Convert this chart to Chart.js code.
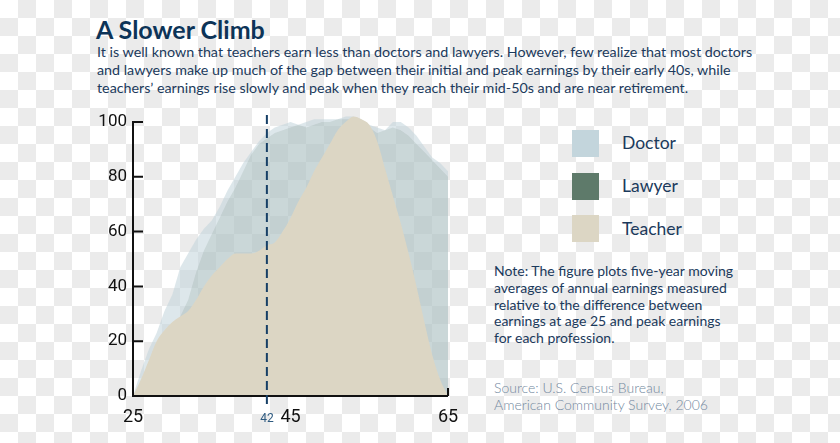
<!DOCTYPE html>
<html lang="en">
<head>
<meta charset="UTF-8">
<title>A Slower Climb</title>
<script src="https://cdn.jsdelivr.net/npm/chart.js"></script>
<style>
  body {
    margin: 0;
    width: 840px;
    height: 443px;
    overflow: hidden;
    position: relative;
    background: repeating-conic-gradient(#ebebeb 0 25%, #ffffff 0 50%) 0 0 / 36px 36px;
    font-family: 'Lato', sans-serif;
    color: #1b3a5c;
  }
  #chart { position: absolute; left: 0; top: 0; }
  .title {
    position: absolute; left: 96px; top: 14px;
    font-size: 25px; font-weight: bold; color: #0d3458;
  }
  .intro {
    position: absolute; left: 97px; top: 43px;
    font-size: 14.3px; line-height: 18px; white-space: nowrap;
  }
  .swatch { position: absolute; left: 572px; width: 27px; height: 27px; }
  .lbl { position: absolute; left: 622px; font-size: 17.5px; line-height: 22px; }
  .note {
    position: absolute; left: 494px; top: 263px;
    font-size: 14px; line-height: 16.8px; white-space: nowrap;
  }
  .source {
    position: absolute; left: 494px; top: 379px;
    font-size: 14px; line-height: 17px; color: #7389a0; font-weight: 300; white-space: nowrap;
  }
</style>
</head>
<body>
  <div class="title">A Slower Climb</div>
  <div class="intro">
    It is well known that teachers earn less than doctors and lawyers. However, few realize that most doctors<br>
    and lawyers make up much of the gap between their initial and peak earnings by their early 40s, while<br>
    teachers’ earnings rise slowly and peak when they reach their mid-50s and are near retirement.
  </div>

  <div class="swatch" style="top:130px; background:#c3d5dc;"></div>
  <div class="lbl" style="top:132px;">Doctor</div>
  <div class="swatch" style="top:173px; background:#5e7a6a;"></div>
  <div class="lbl" style="top:175px;">Lawyer</div>
  <div class="swatch" style="top:215px; background:#dcd6c4;"></div>
  <div class="lbl" style="top:218px;">Teacher</div>

  <div class="note">
    Note: The figure plots five-year moving<br>
    averages of annual earnings measured<br>
    relative to the difference between<br>
    earnings at age 25 and peak earnings<br>
    for each profession.
  </div>
  <div class="source">
    Source: U.S. Census Bureau,<br>
    American Community Survey, 2006
  </div>

  <canvas id="chart" width="840" height="443"></canvas>

<script>
// ages 25..65
const ages = [25,26,27,28,29,30,31,32,33,34,35,36,37,38,39,40,41,42,43,44,45,
              46,47,48,49,50,51,52,53,54,55,56,57,58,59,60,61,62,63,64,65];

const doctor = [0,9,17,23,31,37,47,52,57,61,64,69,75,80,85,89,93,96,98,99,100,
                99,100,101,101,101,101,102,102,101,99,98,97,100,100,98,95,91,87,85,82];

const lawyer = [0,5,10,14,19,24,29,35,45,53,59,65,71,76,82,88,92,94,96,97,98,
                99,98,99,100,100,101,101,101,100,98,96,97,98,97,95,92,89,86,83,80];

const teacher = [0,6,13,20,24,27,29,31,35,40,44,47,50,52,52,52,53,55,56,60,65,
                 71,76,82,87,92,97,100,102,101,99,93,83,73,63,52,40,27,15,6,0];

const xTicks = [25, 45, 65];
const yTicks = [0, 20, 40, 60, 80, 100];
const markerAge = 42;

function toPoints(values) {
    return ages.map((a, i) => ({ x: a, y: values[i] }));
}

// axis lines, inner tick marks and the dashed marker at age 42
const axisLines = {
    id: 'axisLines',
    afterDatasetsDraw(chart) {
        const ctx = chart.ctx;
        const xs = chart.scales.x, ys = chart.scales.y;
        const x0 = xs.getPixelForValue(25), x1 = xs.getPixelForValue(65);
        const y0 = ys.getPixelForValue(0), yTop = ys.getPixelForValue(100);
        ctx.save();
        ctx.strokeStyle = '#111';
        ctx.lineWidth = 2;
        ctx.beginPath();
        ctx.moveTo(x0, yTop - 1);
        ctx.lineTo(x0, y0);
        ctx.lineTo(x1, y0);
        yTicks.forEach(v => {
            const p = ys.getPixelForValue(v);
            ctx.moveTo(x0, p);
            ctx.lineTo(x0 + 10, p);
        });
        ctx.moveTo(x1, y0);
        ctx.lineTo(x1, y0 - 8);
        ctx.stroke();

        const xm = xs.getPixelForValue(markerAge);
        ctx.strokeStyle = '#163f66';
        ctx.setLineDash([9, 5]);
        ctx.beginPath();
        ctx.moveTo(xm, yTop - 7);
        ctx.lineTo(xm, y0 + 10);
        ctx.stroke();
        ctx.setLineDash([]);

        ctx.fillStyle = '#2e5a80';
        ctx.font = '12px Roboto';
        ctx.textAlign = 'center';
        ctx.textBaseline = 'middle';
        ctx.fillText(String(markerAge), xm, y0 + 23);
        ctx.restore();
    }
};

new Chart(document.getElementById('chart'), {
    type: 'line',
    data: {
        datasets: [
            {
                label: 'Teacher',
                data: toPoints(teacher),
                backgroundColor: '#dcd6c4',
                borderWidth: 0,
                pointRadius: 0,
                fill: 'origin',
                cubicInterpolationMode: 'monotone',
                order: 0
            },
            {
                label: 'Lawyer',
                data: toPoints(lawyer),
                backgroundColor: 'rgba(94, 122, 106, 0.15)',
                borderWidth: 0,
                pointRadius: 0,
                fill: 'origin',
                order: 1
            },
            {
                label: 'Doctor',
                data: toPoints(doctor),
                backgroundColor: 'rgba(195, 213, 220, 0.57)',
                borderWidth: 0,
                pointRadius: 0,
                fill: 'origin',
                order: 2
            }
        ]
    },
    options: {
        responsive: false,
        animation: false,
        layout: { padding: { left: 0, top: 111, right: 392, bottom: 0 } },
        plugins: { legend: { display: false }, tooltip: { enabled: false } },
        scales: {
            x: {
                type: 'linear',
                min: 25,
                max: 65,
                grid: { display: false, drawTicks: false },
                border: { display: false },
                afterBuildTicks: s => { s.ticks = xTicks.map(v => ({ value: v })); },
                afterFit: s => { s.height = 47; },
                ticks: {
                    padding: 11,
                    color: '#111',
                    font: { family: 'Roboto', size: 18 }
                }
            },
            y: {
                min: 0,
                max: 104,
                grid: { display: false, drawTicks: false },
                border: { display: false },
                afterBuildTicks: s => { s.ticks = yTicks.map(v => ({ value: v })); },
                afterFit: s => { s.width = 133; },
                ticks: {
                    padding: 6,
                    color: '#111',
                    font: { family: 'Roboto', size: 17 }
                }
            }
        }
    },
    plugins: [axisLines]
});
</script>
</body>
</html>
